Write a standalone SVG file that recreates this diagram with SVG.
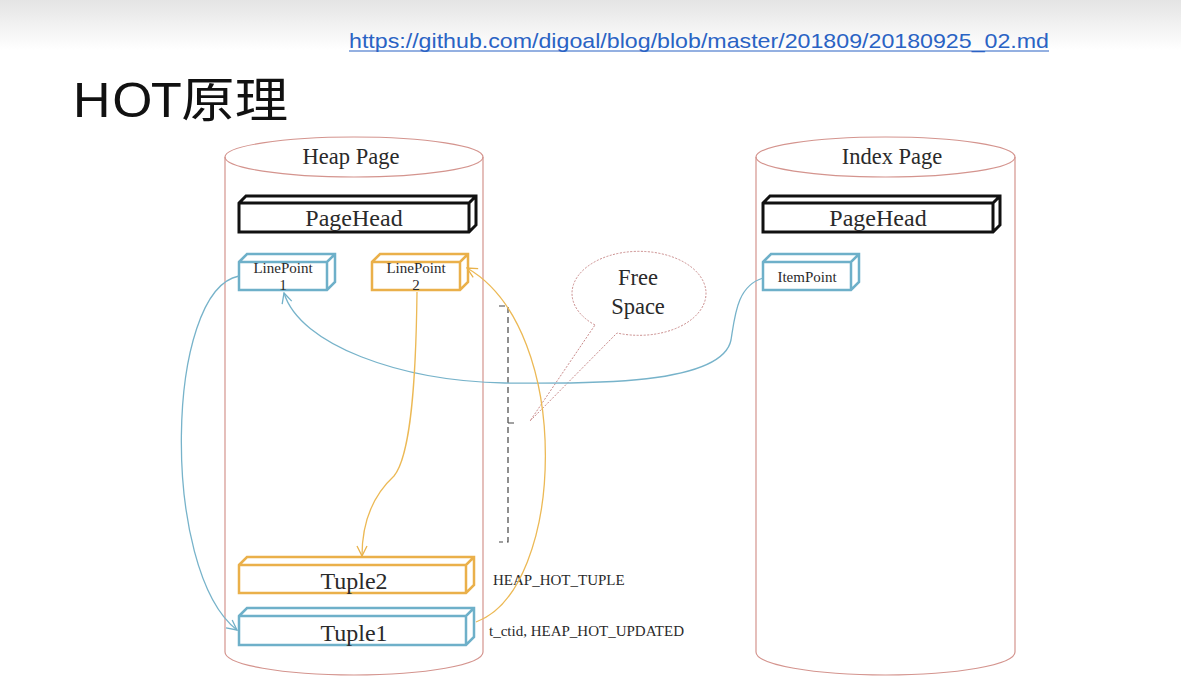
<svg xmlns="http://www.w3.org/2000/svg" width="1181" height="698" viewBox="0 0 1181 698">
<defs>
<linearGradient id="topshade" x1="0" y1="0" x2="0" y2="1">
<stop offset="0" stop-color="#e4e4e4"/>
<stop offset="1" stop-color="#ffffff"/>
</linearGradient>
<marker id="arrB" viewBox="0 0 12 12" refX="11" refY="6" markerWidth="12" markerHeight="12" markerUnits="userSpaceOnUse" orient="auto">
<path d="M1,1 L11,6 L1,11" fill="none" stroke="#72b0c8" stroke-width="1.3"/>
</marker>
<marker id="arrO" viewBox="0 0 12 12" refX="11" refY="6" markerWidth="12" markerHeight="12" markerUnits="userSpaceOnUse" orient="auto">
<path d="M1,1 L11,6 L1,11" fill="none" stroke="#e9b24a" stroke-width="1.3"/>
</marker>
</defs>
<style>
.cyl{fill:none;stroke:#d4948e;stroke-width:1.2}
.ser{font-family:"Liberation Serif","DejaVu Serif",serif;fill:#2a2a2a}
.blk{fill:#fff;stroke:#111;stroke-width:3}
.blu{fill:#fff;stroke:#6eb0c9;stroke-width:2.5}
.org{fill:#fff;stroke:#eab04a;stroke-width:2.5}
.side{fill:#bdbdbd}
.cb{fill:none;stroke:#77b3ca;stroke-width:1.3}
.co{fill:none;stroke:#ecb955;stroke-width:1.3}
</style>
<rect x="0" y="0" width="1181" height="698" fill="#fff"/>
<rect x="0" y="0" width="1181" height="50" fill="url(#topshade)"/>

<g id="header">
<text x="349" y="48" font-family="'Liberation Sans','DejaVu Sans',sans-serif" font-size="21" fill="#2a63c4" textLength="700" lengthAdjust="spacingAndGlyphs">https://github.com/digoal/blog/blob/master/201809/20180925_02.md</text>
<line x1="349" y1="51" x2="1049" y2="51" stroke="#2a63c4" stroke-width="1.2"/>
<text x="72" y="117" font-family="'Noto Sans','Noto Sans CJK SC',sans-serif" font-size="48" fill="#111" textLength="216" lengthAdjust="spacingAndGlyphs">HOT原理</text>
</g>

<g id="heap-page">
<path class="cyl" d="M225,157 L225,652 A129,23 0 0 0 483,652 L483,157"/>
<ellipse class="cyl" cx="354" cy="157" rx="129" ry="20"/>
<text class="ser" x="351" y="164" font-size="22.5" text-anchor="middle">Heap Page</text>
</g>

<g id="index-page">
<path class="cyl" d="M756,157 L756,652 A129.5,23 0 0 0 1015,652 L1015,157"/>
<ellipse class="cyl" cx="885.5" cy="157" rx="129.5" ry="20"/>
<text class="ser" x="892" y="164" font-size="22.5" text-anchor="middle">Index Page</text>
</g>

<g id="heap-pagehead">
<path class="side" d="M469,203 L476,196 L476,225 L469,232 Z"/>
<path class="blk" d="M239,203 L246,196 L476,196 L476,225 L469,232 L239,232 Z M239,203 L469,203 L476,196 M469,203 L469,232" />
<text class="ser" x="354" y="226" font-size="24" text-anchor="middle">PageHead</text>
</g>

<g id="index-pagehead">
<path class="side" d="M993,203 L1000,196 L1000,225 L993,232 Z"/>
<path class="blk" d="M763,203 L770,196 L1000,196 L1000,225 L993,232 L763,232 Z M763,203 L993,203 L1000,196 M993,203 L993,232"/>
<text class="ser" x="878" y="226" font-size="24" text-anchor="middle">PageHead</text>
</g>

<g id="linepoint1">
<path class="side" d="M327,262 L335,254 L335,282 L327,290 Z"/>
<path class="blu" d="M239,262 L247,254 L335,254 L335,282 L327,290 L239,290 Z M239,262 L327,262 L335,254 M327,262 L327,290"/>
<text class="ser" x="283" y="273" font-size="15" text-anchor="middle">LinePoint</text>
<text class="ser" x="283" y="290" font-size="15" text-anchor="middle">1</text>
</g>

<g id="linepoint2">
<path class="side" d="M460,262 L468,254 L468,282 L460,290 Z"/>
<path class="org" d="M372,262 L380,254 L468,254 L468,282 L460,290 L372,290 Z M372,262 L460,262 L468,254 M460,262 L460,290"/>
<text class="ser" x="416" y="273" font-size="15" text-anchor="middle">LinePoint</text>
<text class="ser" x="416" y="290" font-size="15" text-anchor="middle">2</text>
</g>

<g id="itempoint">
<path class="side" d="M851,262 L859,254 L859,282 L851,290 Z"/>
<path class="blu" d="M763,262 L771,254 L859,254 L859,282 L851,290 L763,290 Z M763,262 L851,262 L859,254 M851,262 L851,290"/>
<text class="ser" x="807" y="282" font-size="15" text-anchor="middle">ItemPoint</text>
</g>

<g id="tuple2">
<path class="side" d="M466,565 L474,557 L474,585 L466,593 Z"/>
<path class="org" d="M239,565 L247,557 L474,557 L474,585 L466,593 L239,593 Z M239,565 L466,565 L474,557 M466,565 L466,593"/>
<text class="ser" x="354" y="589" font-size="24" text-anchor="middle">Tuple2</text>
</g>
<text class="ser" x="493" y="585" font-size="15">HEAP_HOT_TUPLE</text>

<g id="tuple1">
<path class="side" d="M466,616 L474,608 L474,637 L466,645 Z"/>
<path class="blu" d="M239,616 L247,608 L474,608 L474,637 L466,645 L239,645 Z M239,616 L466,616 L474,608 M466,616 L466,645"/>
<text class="ser" x="354" y="641" font-size="24" text-anchor="middle">Tuple1</text>
</g>
<text class="ser" x="489" y="636" font-size="15">t_ctid, HEAP_HOT_UPDATED</text>

<g id="free-space">
<path d="M499,306 L508,306 L508,542 L499,542 M508,423 L516,423" fill="none" stroke="#444" stroke-width="1.2" stroke-dasharray="6,4"/>
<path d="M595,325 A67,42 0 1 1 617,333 L530,421 Z" fill="#fff" stroke="#c98a8a" stroke-width="1" stroke-dasharray="2,1.5"/>
<text class="ser" x="638" y="285" font-size="22.5" text-anchor="middle">Free</text>
<text class="ser" x="638" y="314" font-size="22.5" text-anchor="middle">Space</text>
</g>

<g id="connectors">
<path class="cb" d="M239,276 C165,290 160,570 237,630" marker-end="url(#arrB)"/>
<path class="cb" d="M763,278 C737,286 735,315 731,340 C722,385 590,384 505,383 C400,381 300,345 284,293" marker-end="url(#arrB)"/>
<path class="co" d="M417,292 C416,380 411,455 394,476 C368,500 362,530 362,556" marker-end="url(#arrO)"/>
<path class="co" d="M476,622 C565,590 575,330 467,268" marker-end="url(#arrO)"/>
</g>
</svg>
